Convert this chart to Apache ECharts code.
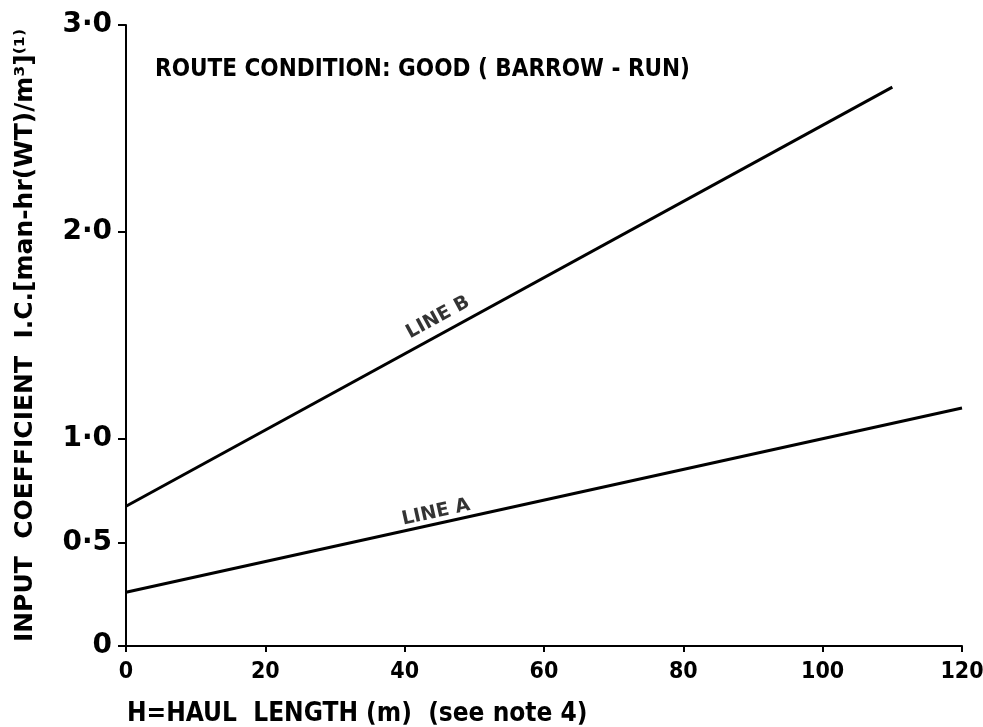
<!DOCTYPE html>
<html>
<head>
<meta charset="utf-8">
<script src="https://cdn.jsdelivr.net/npm/echarts@6/dist/echarts.min.js"></script>
<style>
  html, body { margin: 0; padding: 0; background: #fff; }
  #chart { width: 983px; height: 727px; }
</style>
</head>
<body>
<div id="chart"></div>
<script>
// haul length (m) vs input coefficient
const lineA = [[0, 0.26], [120, 1.15]];
const lineB = [[0, 0.675], [110, 2.70]];
const yTicks = [0, 0.5, 1, 2, 3];
const xTicks = [0, 20, 40, 60, 80, 100, 120];
const lineLabels = [
    { name: 'LINE A', value: [44.5, 0.645], rotate: 12.5 },
    { name: 'LINE B', value: [44.8, 1.587], rotate: 28.6 }
];

const NARROW = '"Liberation Sans Narrow", "DejaVu Sans Condensed", sans-serif';
const WIDE = '"DejaVu Sans", sans-serif';

const myChart = echarts.init(document.getElementById('chart'));

myChart.setOption({
    backgroundColor: '#fff',
    animation: false,
    title: [{
        text: 'ROUTE CONDITION: GOOD ( BARROW - RUN)',
        left: 150,
        top: 53,
        textStyle: { fontFamily: NARROW, fontSize: 24, fontWeight: 'bold', color: '#000' }
    }, {
        text: 'H=HAUL  LENGTH (m)  (see note 4)',
        left: 122,
        top: 696,
        textStyle: { fontFamily: NARROW, fontSize: 26, fontWeight: 'bold', color: '#000' }
    }],
    grid: { left: 126, right: 21, top: 25, bottom: 81, outerBoundsMode: 'none', containLabel: false },
    xAxis: {
        type: 'value',
        min: 0,
        max: 120,
        interval: 20,
        axisLine: { lineStyle: { color: '#000', width: 2 } },
        axisTick: { show: true, length: 6, lineStyle: { color: '#000', width: 2 }, customValues: xTicks },
        axisLabel: {
            customValues: xTicks,
            margin: 15,
            fontFamily: NARROW, fontSize: 23, fontWeight: 'bold', color: '#000'
        },
        splitLine: { show: false }
    },
    yAxis: {
        type: 'value',
        min: 0,
        max: 3,
        name: 'INPUT  COEFFICIENT  I.C.[man-hr(WT)/m³]⁽¹⁾',
        nameLocation: 'middle',
        nameGap: 88,
        nameTextStyle: { fontFamily: WIDE, fontSize: 25, fontWeight: 'bold', color: '#000' },
        axisLine: { show: true, lineStyle: { color: '#000', width: 2 } },
        axisTick: { show: true, length: 8, lineStyle: { color: '#000', width: 2 }, customValues: yTicks },
        axisLabel: {
            customValues: yTicks,
            margin: 14,
            fontFamily: WIDE, fontSize: 28, fontWeight: 'bold', color: '#000',
            formatter: function (v) {
                return v === 0 ? '0' : v.toFixed(1).replace('.', '·');
            }
        },
        splitLine: { show: false }
    },
    series: [{
        name: 'LINE A',
        type: 'line',
        data: lineA,
        symbol: 'none',
        lineStyle: { color: '#000', width: 3 }
    }, {
        name: 'LINE B',
        type: 'line',
        data: lineB,
        symbol: 'none',
        lineStyle: { color: '#000', width: 3 }
    }, {
        type: 'scatter',
        symbolSize: 0,
        data: lineLabels.map(function (d) {
            return {
                name: d.name,
                value: d.value,
                label: { rotate: d.rotate }
            };
        }),
        label: {
            show: true,
            position: 'inside',
            formatter: '{b}',
            fontFamily: WIDE, fontSize: 19, fontWeight: 'bold', color: '#000',
            textBorderWidth: 0
        }
    }]
});
</script>
</body>
</html>
